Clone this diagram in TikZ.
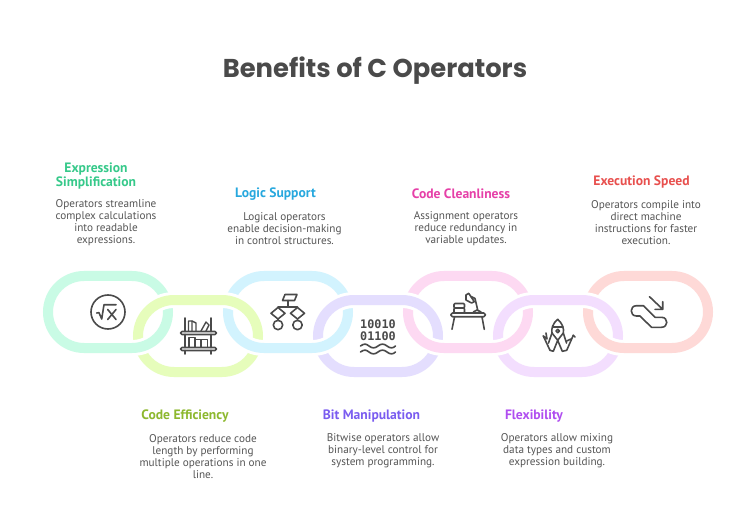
\documentclass[tikz,border=0pt]{standalone}
\usepackage{fontspec}
\setmainfont{PT Sans}
\newfontfamily\titlefont{Poppins}
\newfontfamily\monofont{DejaVu Sans Mono}
\definecolor{ra}{HTML}{C9FBE5}\definecolor{rb}{HTML}{E6FDBB}\definecolor{rc}{HTML}{D2F3FE}
\definecolor{rd}{HTML}{E4DEFE}\definecolor{re}{HTML}{FDD9F2}\definecolor{rf}{HTML}{F3DEFE}\definecolor{rg}{HTML}{FED9D7}
\definecolor{ta}{HTML}{36C98A}\definecolor{tb}{HTML}{8DB82E}\definecolor{tc}{HTML}{27A8DE}
\definecolor{td}{HTML}{7A5CF0}\definecolor{te}{HTML}{E640A8}\definecolor{tf}{HTML}{B04DF0}\definecolor{tg}{HTML}{E8504E}
\definecolor{ink}{HTML}{4A4A4A}\definecolor{body}{HTML}{555555}
\newcommand{\ringpath}[2]{[rounded corners=36pt] (#1,#2) rectangle (#1+120,#2+72)}
\begin{document}
\begin{tikzpicture}[x=1pt,y=-1pt,
 band/.style={line width=10pt},
 halo/.style={line width=16pt,white},
 ttl/.style={font=\titlefont\bfseries\fontsize{25.8}{30}\selectfont,text=ink},
 head/.style={font=\bfseries\fontsize{13.6}{14}\selectfont,align=center,inner sep=0pt},
 bodytext/.style={font=\fontsize{11.2}{12}\selectfont,text=body,align=center,inner sep=0pt},
 icon/.style={draw=ink,line width=1.6pt,line cap=round,line join=round}]
\useasboundingbox (0,0) rectangle (750,505);
\fill[white] (0,0) rectangle (750,505);
\node[ttl] (title) at (375,71) {Benefits of C Operators};
% odd rings
\foreach \x/\c in {48/ra,228/rc,408/re,588/rg}{\draw[band,\c] \ringpath{\x}{276};}
% even rings, over the odd ones at the top crossings
\foreach \x/\c in {138/rb,318/rd,498/rf}{
 \draw[halo] \ringpath{\x}{300};
 \draw[band,\c] \ringpath{\x}{300};}
% odd rings again, over the even ones at the bottom crossings
\begin{scope}
\clip (0,325) rectangle (750,400);
\foreach \x/\c in {48/ra,228/rc,408/re,588/rg}{
 \draw[halo] \ringpath{\x}{276};
 \draw[band,\c] \ringpath{\x}{276};}
\end{scope}
% texts
\node[head,text=ta] (h1) at (96,176) {Expression\\Simplification};
\node[bodytext] (b1) at (106,222.5) {Operators streamline\\complex calculations\\into readable\\expressions.};
\node[head,text=tb] (h2) at (185,416) {Code Efficiency};
\node[bodytext] (b2) at (203,456.5) {Operators reduce code\\length by performing\\multiple operations in one\\line.};
\node[head,text=tc] (h3) at (275.5,194) {Logic Support};
\node[bodytext] (b3) at (284.5,229) {Logical operators\\enable decision-making\\in control structures.};
\node[head,text=td] (h4) at (371.5,416) {Bit Manipulation};
\node[bodytext] (b4) at (383,450.5) {Bitwise operators allow\\binary-level control for\\system programming.};
\node[head,text=te] (h5) at (461,194) {Code Cleanliness};
\node[bodytext] (b5) at (466,228.5) {Assignment operators\\reduce redundancy in\\variable updates.};
\node[head,text=tf] (h6) at (534,416) {Flexibility};
\node[bodytext] (b6) at (557,450.5) {Operators allow mixing\\data types and custom\\expression building.};
\node[head,text=tg] (h7) at (641.5,182) {Execution Speed};
\node[bodytext] (b7) at (646,222.5) {Operators compile into\\direct machine\\instructions for faster\\execution.};
% icon 1: square root
\draw[icon] (108,312) circle (17);
\draw[icon] (96.7,313) -- (99,312.7) -- (101.7,319) -- (104,304.7) -- (116,304.7);
\draw[icon] (107.7,309.5) -- (116,319.5) (116,309.5) -- (107.7,319.5);
% icon 2: bookshelf
\draw[icon,rounded corners=1.5pt] (180.5,331.5) rectangle (216.5,334.5);
\draw[icon,rounded corners=1.5pt] (180.5,347.5) rectangle (216.5,350.5);
\draw[icon] (185,318) -- (185,331.5) (185,334.5) -- (185,347.5) (185,350.5) -- (185,354);
\draw[icon] (211,318) -- (211,331.5) (211,334.5) -- (211,347.5) (211,350.5) -- (211,354);
\draw[icon,line width=1.4pt] (188.5,331) -- (188.5,321) -- (192,321) -- (196,323) -- (196,331);
\draw[icon,line width=1.4pt] (201,331) -- (206,322) -- (209,325) -- (206,331) (192,321) -- (192,331);
\draw[icon,line width=1.4pt] (189,347) -- (189,337.5) -- (195,337.5) -- (195,347) (195,339.5) -- (201,339.5) -- (201,347) (201,339.5) -- (207.5,339.5) -- (207.5,347);
% icon 3: flowchart
\draw[icon] (285,294.5) -- (297,294.5) -- (294.5,300.5) -- (282.5,300.5) -- cycle;
\draw[icon] (288,300.5) -- (288,306.7) (278,306.7) -- (297.5,306.7);
\draw[icon] (278,307.5) -- (285,313.3) -- (278,319) -- (271,313.3) -- cycle;
\draw[icon] (297.5,307.5) -- (304.5,313.3) -- (297.5,319) -- (290.5,313.3) -- cycle;
\draw[icon] (278,319) -- (278,320.5) (297.5,319) -- (297.5,320.5);
\draw[icon] (278,325) circle (4.7) (297.5,325) circle (4.7);
% icon 4: binary
\node[font=\monofont\bfseries\fontsize{11.8}{11.6}\selectfont,text=ink,align=center,inner sep=0pt] (bits) at (378,330) {10010\\01100};
\draw[icon] (360.5,346) .. controls (364,343.5) and (366,343.5) .. (369,346) .. controls (372,348.5) and (375,348.5) .. (378,346) .. controls (381,343.5) and (384,343.5) .. (387,346) .. controls (390,348.5) and (393,348.5) .. (395.5,346);
\draw[icon] (360.5,352) .. controls (364,349.5) and (366,349.5) .. (369,352) .. controls (372,354.5) and (375,354.5) .. (378,352) .. controls (381,349.5) and (384,349.5) .. (387,352) .. controls (390,354.5) and (393,354.5) .. (395.5,352);
% icon 5: desk
\draw[icon,rounded corners=1.5pt] (451,313) rectangle (485.3,316.7);
\draw[icon] (454.5,317) -- (452,329.3) (482,317) -- (484.3,329.3);
\draw[icon,rounded corners=1pt] (454,303.5) rectangle (464.5,308);
\draw[icon,rounded corners=1pt] (454,308) rectangle (464.5,313);
\draw[icon] (473.3,312) -- (477,310) -- (481,312) (477.7,310) -- (475,298.5) -- (471,296.5);
\draw[icon] (466,295) -- (468.7,293.3) -- (474.3,301.7) -- (471.5,303) -- (466,300) -- cycle;
% icon 6: pliers
\draw[icon] (557.7,319.3) .. controls (553,323) and (551,329) .. (552,333) -- (557.7,340.3) -- (563.3,333) .. controls (564.3,329) and (562.3,323) .. (557.7,319.3) -- cycle;
\draw[icon] (552.5,327) -- (563,327) (557.7,331) circle (1.8);
\draw[icon] (543.3,336) -- (550,350.3) -- (553.3,351.3) -- (557.7,340.3) -- (562.3,351.3) -- (566.7,350.3) -- (573.3,335.3);
\draw[icon] (552,333) -- (548.5,343) (563.3,333) -- (566.5,343);
\draw[icon] (543.3,336) -- (547,339) -- (546,333) (566.7,341) -- (571,339) (573.3,335.3) -- (575,337);
% icon 7: escalator
\draw[icon] (636.5,305.7) -- (643.5,305.7) -- (655,317.3) -- (661.5,317.3) .. controls (668.5,317.3) and (668.5,327.3) .. (661.5,327.3) -- (651.5,327.3) -- (640,316) -- (636.5,316) .. controls (629.5,316) and (629.5,305.7) .. (636.5,305.7) -- cycle;
\draw[icon] (649.5,296.7) -- (662.7,309.3) (662.7,301.7) -- (662.7,309.3) -- (655,309.3);
\end{tikzpicture}
\end{document}
